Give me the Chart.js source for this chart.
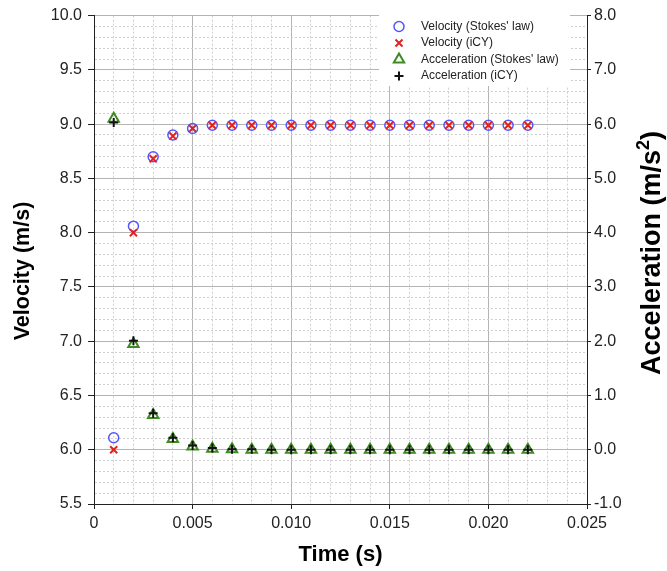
<!DOCTYPE html>
<html>
<head>
<meta charset="utf-8">
<title>Velocity and acceleration</title>
<script src="https://cdn.jsdelivr.net/npm/chart.js"></script>
<style>
  html, body { margin: 0; padding: 0; background: #fff; }
  #wrap { width: 667px; height: 571px; }
</style>
</head>
<body>
<div id="wrap"><canvas id="chart" width="667" height="571"></canvas></div>
<script>
const FONT = "'Liberation Sans', Arial, Helvetica, sans-serif";

// sample times (s)
const timeS = [0.001, 0.002, 0.003, 0.004, 0.005, 0.006, 0.007, 0.008, 0.009, 0.010, 0.011,
               0.012, 0.013, 0.014, 0.015, 0.016, 0.017, 0.018, 0.019, 0.020, 0.021, 0.022];

// velocity (m/s)
const velStokes = [6.11, 8.06, 8.70, 8.90, 8.96, 8.99, 8.99, 8.99, 8.99, 8.99, 8.99,
                   8.99, 8.99, 8.99, 8.99, 8.99, 8.99, 8.99, 8.99, 8.99, 8.99, 8.99];
const velICY    = [6.00, 8.00, 8.68, 8.89, 8.96, 8.99, 8.99, 8.99, 8.99, 8.99, 8.99,
                   8.99, 8.99, 8.99, 8.99, 8.99, 8.99, 8.99, 8.99, 8.99, 8.99, 8.99];

// acceleration (m/s^2)
const accStokes = [6.10, 1.95, 0.64, 0.20, 0.06, 0.02, 0.01, 0.00, 0.00, 0.00, 0.00,
                   0.00, 0.00, 0.00, 0.00, 0.00, 0.00, 0.00, 0.00, 0.00, 0.00, 0.00];
const accICY    = [6.03, 2.01, 0.67, 0.22, 0.08, 0.03, 0.01, 0.01, 0.00, 0.00, 0.00,
                   0.00, 0.00, 0.00, 0.00, 0.00, 0.00, 0.00, 0.00, 0.00, 0.00, 0.00];

const seriesNames = ["Velocity (Stokes' law)", "Velocity (iCY)",
                     "Acceleration (Stokes' law)", "Acceleration (iCY)"];

const BLUE = '#5656ff';
const RED = '#e3211c';
const GREEN = '#3d8b22';
const BLACK = '#111111';

function isMajor(v, step) {
    const r = v / step;
    return Math.abs(r - Math.round(r)) < 1e-6;
}

function pts(ys) {
    return timeS.map((t, i) => ({ x: t, y: ys[i] }));
}

// minor grid = dotted, major grid = solid
function gridColor(step) {
    return ctx => (ctx.tick && isMajor(ctx.tick.value, step)) ? '#b4b4b4' : '#cfcfcf';
}
function gridDash(step) {
    return ctx => (ctx.tick && !isMajor(ctx.tick.value, step)) ? [2, 2] : [];
}
function tickMarkColor(step) {
    return ctx => (ctx.tick && isMajor(ctx.tick.value, step)) ? '#222' : 'rgba(0,0,0,0)';
}

// legend box drawn inside the plot, top right
const boxLegend = {
    id: 'boxLegend',
    afterDatasetsDraw(chart) {
        const ctx = chart.ctx;
        const x0 = 379, y0 = 14, w = 191, h = 72;
        ctx.save();
        ctx.fillStyle = '#fff';
        ctx.fillRect(x0, y0, w, h);
        ctx.font = '12px ' + FONT;
        ctx.textBaseline = 'middle';
        ctx.fillStyle = '#222';
        const mx = 399, tx = 421;
        const rows = [26.5, 43, 59.5, 76];
        rows.forEach((y, i) => {
            ctx.lineWidth = 2;
            ctx.beginPath();
            if (i === 0) {
                ctx.strokeStyle = BLUE;
                ctx.lineWidth = 1.5;
                ctx.arc(mx, y, 5, 0, Math.PI * 2);
            } else if (i === 1) {
                ctx.strokeStyle = RED;
                ctx.moveTo(mx - 3.5, y - 3.5); ctx.lineTo(mx + 3.5, y + 3.5);
                ctx.moveTo(mx + 3.5, y - 3.5); ctx.lineTo(mx - 3.5, y + 3.5);
            } else if (i === 2) {
                ctx.strokeStyle = GREEN;
                ctx.moveTo(mx, y - 6);
                ctx.lineTo(mx + 5.2, y + 3);
                ctx.lineTo(mx - 5.2, y + 3);
                ctx.closePath();
            } else {
                ctx.strokeStyle = BLACK;
                ctx.moveTo(mx - 4.5, y); ctx.lineTo(mx + 4.5, y);
                ctx.moveTo(mx, y - 4.5); ctx.lineTo(mx, y + 4.5);
            }
            ctx.stroke();
            ctx.fillText(seriesNames[i], tx, y);
        });
        ctx.restore();
    }
};

// vertical axis titles, both reading bottom to top
const sideTitles = {
    id: 'sideTitles',
    afterDraw(chart) {
        const ctx = chart.ctx;
        ctx.save();
        ctx.fillStyle = '#000';
        ctx.textBaseline = 'alphabetic';

        // left: velocity
        ctx.save();
        ctx.translate(29, 271);
        ctx.rotate(-Math.PI / 2);
        ctx.font = 'bold 21.5px ' + FONT;
        ctx.textAlign = 'center';
        ctx.fillText('Velocity (m/s)', 0, 0);
        ctx.restore();

        // right: acceleration with superscript 2
        const size = 27, supSize = 18;
        const head = 'Acceleration (m/s', sup = '2', tail = ')';
        ctx.save();
        ctx.translate(660, 253);
        ctx.rotate(-Math.PI / 2);
        ctx.textAlign = 'left';
        ctx.font = 'bold ' + size + 'px ' + FONT;
        const w1 = ctx.measureText(head).width;
        const w3 = ctx.measureText(tail).width;
        ctx.font = 'bold ' + supSize + 'px ' + FONT;
        const w2 = ctx.measureText(sup).width;
        let x = -(w1 + w2 + w3) / 2;
        ctx.font = 'bold ' + size + 'px ' + FONT;
        ctx.fillText(head, x, 0);
        x += w1;
        ctx.font = 'bold ' + supSize + 'px ' + FONT;
        ctx.fillText(sup, x, -11);
        x += w2;
        ctx.font = 'bold ' + size + 'px ' + FONT;
        ctx.fillText(tail, x, 0);
        ctx.restore();

        ctx.restore();
    }
};

function initChart() {
    const ctx = document.getElementById('chart').getContext('2d');
    new Chart(ctx, {
        type: 'scatter',
        data: {
            datasets: [
                { label: seriesNames[0], data: pts(velStokes), yAxisID: 'y', order: 4,
                  pointStyle: 'circle', pointRadius: 5, borderWidth: 1.5,
                  borderColor: BLUE, backgroundColor: 'rgba(0,0,0,0)' },
                { label: seriesNames[1], data: pts(velICY), yAxisID: 'y', order: 3,
                  pointStyle: 'crossRot', pointRadius: 5, borderWidth: 2,
                  borderColor: RED, backgroundColor: RED },
                { label: seriesNames[2], data: pts(accStokes), yAxisID: 'y2', order: 2,
                  pointStyle: 'triangle', pointRadius: 6, borderWidth: 2,
                  borderColor: GREEN, backgroundColor: 'rgba(0,0,0,0)' },
                { label: seriesNames[3], data: pts(accICY), yAxisID: 'y2', order: 1,
                  pointStyle: 'cross', pointRadius: 4.5, borderWidth: 2,
                  borderColor: BLACK, backgroundColor: BLACK }
            ]
        },
        options: {
            responsive: false,
            animation: false,
            layout: { padding: { top: 13, left: 0, right: 0, bottom: 0 } },
            plugins: {
                legend: { display: false },
                tooltip: { enabled: false }
            },
            scales: {
                x: {
                    type: 'linear',
                    min: 0, max: 0.025,
                    afterFit: s => { s.height = 67; },
                    border: { display: true, color: '#222', width: 1, dash: gridDash(0.005) },
                    grid: { color: gridColor(0.005), tickColor: tickMarkColor(0.005), tickLength: 5 },
                    ticks: {
                        stepSize: 0.001, autoSkip: false, maxRotation: 0, padding: 5,
                        color: '#222', font: { family: FONT, size: 16 },
                        callback: v => isMajor(v, 0.005) ? (v === 0 ? '0' : v.toFixed(3)) : ''
                    },
                    title: {
                        display: true, text: 'Time (s)', color: '#000',
                        font: { family: FONT, size: 22, weight: 'bold' },
                        padding: { top: 0, bottom: 3 }
                    }
                },
                y: {
                    position: 'left',
                    min: 5.5, max: 10,
                    afterFit: s => { s.width = 94; },
                    border: { display: true, color: '#222', width: 1, dash: gridDash(0.5) },
                    grid: { color: gridColor(0.5), tickColor: tickMarkColor(0.5), tickLength: 6 },
                    ticks: {
                        stepSize: 0.1, autoSkip: false, padding: 6,
                        color: '#222', font: { family: FONT, size: 16 },
                        callback: v => isMajor(v, 0.5) ? v.toFixed(1) : ''
                    }
                },
                y2: {
                    position: 'right',
                    min: -1, max: 8,
                    afterFit: s => { s.width = 80; },
                    border: { display: true, color: '#222', width: 1 },
                    grid: { drawOnChartArea: false, tickColor: '#222', tickLength: 4 },
                    ticks: {
                        stepSize: 1, padding: 3,
                        color: '#222', font: { family: FONT, size: 16 },
                        callback: v => v.toFixed(1)
                    }
                }
            }
        },
        plugins: [boxLegend, sideTitles]
    });
}

window.onload = initChart;
</script>
</body>
</html>
